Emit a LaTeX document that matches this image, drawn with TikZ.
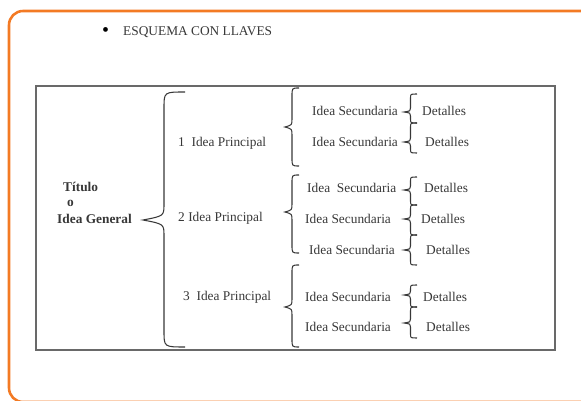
\documentclass[tikz,border=0pt]{standalone}
\usepackage{fontspec}
\setmainfont{Liberation Serif}
\usetikzlibrary{positioning}
\definecolor{frameColor}{RGB}{243,122,36}
\definecolor{textColor}{RGB}{55,55,55}
\definecolor{boxColor}{RGB}{105,105,105}

% curly brace: x of ends, x of tip, top, tip, bottom, curl size
\newcommand{\llave}[6]{%
  \draw[braceEdge] (#1,#3) .. controls ({(#1+#2)/2},#3) .. ({(#1+#2)/2},{#3+#6})
    -- ({(#1+#2)/2},{#4-#6}) .. controls ({(#1+#2)/2},{#4-#6/4}) .. (#2,#4)
    .. controls ({(#1+#2)/2},{#4+#6/4}) .. ({(#1+#2)/2},{#4+#6})
    -- ({(#1+#2)/2},{#5-#6}) .. controls ({(#1+#2)/2},#5) .. (#1,#5);}

\begin{document}
\begin{tikzpicture}[x=0.03cm, y=-0.03cm]

          \tikzstyle{textNode} = [textColor, inner sep=0pt, anchor=west, font=\fontsize{11.4}{13}\selectfont];
          \tikzstyle{boldNode} = [textNode, font=\fontsize{11.4}{13}\selectfont\bfseries];
          \tikzstyle{braceEdge} = [line width=0.9pt, black!78];
          \tikzstyle{frameEdge} = [line width=2.2pt, frameColor, rounded corners=12];
          \tikzstyle{boxEdge} = [line width=1pt, boxColor];

          \useasboundingbox (0,0) rectangle (581,401);

          \draw[frameEdge] (620,11) -- (9,11) -- (9,402) -- (620,402);
          \draw[boxEdge] (36,86) rectangle (555,350);

          \node[textNode, font=\fontsize{17}{17}\selectfont, text=black] (bullet) at (102,32) {\textbullet};
          \node[textNode] (esquema) at (123,32) {ESQUEMA CON LLAVES};

          \node[boldNode] (titulo) at (63,187) {Título};
          \node[boldNode] (o) at (67,203) {o};
          \node[boldNode] (general) at (57,219) {Idea General};

          \node[textNode] (ip1) at (178,143) {1\ \ Idea Principal};
          \node[textNode] (ip2) at (178,218) {2 Idea Principal};
          \node[textNode] (ip3) at (183,297) {3\ \ Idea Principal};

          \node[textNode] (s11) at (312,111) {Idea Secundaria};
          \node[textNode] (s12) at (312,142) {Idea Secundaria};
          \node[textNode] (s21) at (307,188) {Idea\ \ Secundaria};
          \node[textNode] (s22) at (305,219) {Idea Secundaria};
          \node[textNode] (s23) at (309,250) {Idea Secundaria};
          \node[textNode] (s31) at (305,297) {Idea Secundaria};
          \node[textNode] (s32) at (305,327) {Idea Secundaria};

          \node[textNode] (d11) at (422,111) {Detalles};
          \node[textNode] (d12) at (425,142) {Detalles};
          \node[textNode] (d21) at (424,188) {Detalles};
          \node[textNode] (d22) at (421,219) {Detalles};
          \node[textNode] (d23) at (426,250) {Detalles};
          \node[textNode] (d31) at (423,297) {Detalles};
          \node[textNode] (d32) at (426,327) {Detalles};

          \llave{185}{143}{92}{220}{347}{16}
          \llave{299}{285}{88}{127}{166}{8}
          \llave{299}{285}{175}{212}{253}{8}
          \llave{299}{285}{265}{307}{347}{8}

          \llave{417}{404}{94}{112}{123}{4}
          \llave{417}{404}{123}{142}{153}{4}
          \llave{417}{404}{177}{190}{205}{4}
          \llave{417}{404}{205}{219}{235}{4}
          \llave{417}{404}{235}{250}{265}{4}
          \llave{417}{404}{285}{295}{307}{4}
          \llave{417}{404}{307}{323}{338}{4}
        \end{tikzpicture}
\end{document}
